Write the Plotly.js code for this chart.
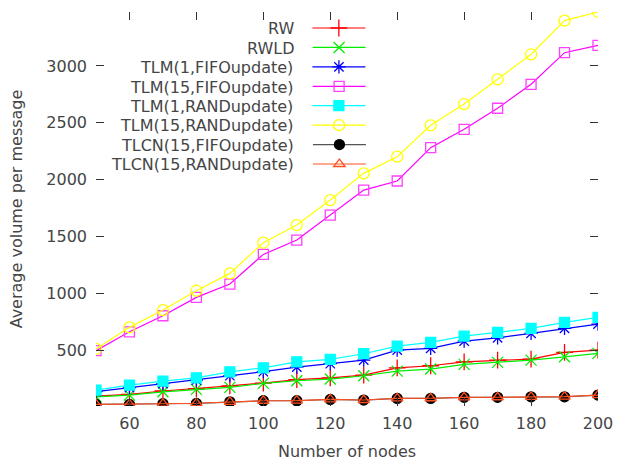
<!DOCTYPE html>
<html><head><meta charset="utf-8">
<script src="https://cdn.plot.ly/plotly-3.0.1.min.js"></script>
<style>html,body{margin:0;padding:0;background:#fff}#chart{width:617px;height:461px}</style>
</head><body><div id="chart"></div>
<script>
// ---- data ----
const nodes = [50,60,70,80,90,100,110,120,130,140,150,160,170,180,190,200];
const rw          = [95,110,140,160,185,210,240,255,280,344,362,397,412,421,480,500];
const rwld        = [89,104,133,154,172,207,230,245,274,315,333,374,392,412,441,471];
const tlm1Fifo    = [135,170,205,235,275,310,350,380,412,500,515,579,608,647,691,729];
const tlm15Fifo   = [495,661,802,964,1081,1342,1468,1688,1908,1988,2281,2443,2628,2839,3117,3182];
const tlm1Rand    = [148,192,227,256,309,344,397,418,468,535,568,623,656,691,744,788];
const tlm15Rand   = [510,700,852,1022,1175,1445,1600,1820,2055,2202,2478,2665,2883,3103,3399,3475];
const tlcn15Fifo  = [22,22,28,31,45,54,54,66,60,75,75,84,84,89,89,104];
const tlcn15Rand  = [22,23,28,32,45,54,55,66,61,75,76,84,85,89,90,104];
const seriesNames = ["RW","RWLD","TLM(1,FIFOupdate)","TLM(15,FIFOupdate)","TLM(1,RANDupdate)","TLM(15,RANDupdate)","TLCN(15,FIFOupdate)","TLCN(15,RANDupdate)"];
const xTicks = [60,80,100,120,140,160,180,200];
const yTicks = [500,1000,1500,2000,2500,3000];

// ---- styles ----
const allSeries = [rw, rwld, tlm1Fifo, tlm15Fifo, tlm1Rand, tlm15Rand, tlcn15Fifo, tlcn15Rand];
const colors  = ["#ff0000","#00ee00","#0000ff","#ff00ff","#00ffff","#ffff00","#555555","#ff5020"];
const mcolors = ["#ff0000","#00ee00","#0000ff","#ff40ff","#00ffff","#ffff00","#000000","#ff5020"];
const symbols = ["cross-thin-open","x-thin-open","asterisk-open","square-open","square","circle-open","circle","triangle-up-open"];
const msizes  = [12,11,11,10,10,11,10,10];

const textColor = "#454545";
const font = {family: "DejaVu Sans, sans-serif", size: 16, color: textColor};

const traces = allSeries.map((ys, i) => ({
  x: nodes, y: ys, type: "scatter", mode: "lines+markers",
  name: "",
  legend: i === 0 ? "legend" : "legend" + (i + 1),
  line: {color: colors[i], width: 1.2},
  marker: {symbol: symbols[i], size: msizes[i], color: mcolors[i],
           line: {color: mcolors[i], width: 1.3}},
  hoverinfo: "x+y"
}));

const W = 617, H = 461, L = 96, R = 19, T = 12, B = 55;
const plotH = H - T - B, plotW = W - L - R;
const layout = {
  width: W, height: H,
  margin: {l: L, r: R, t: T, b: B},
  paper_bgcolor: "#fff", plot_bgcolor: "#fff",
  font: font,
  showlegend: true,
  xaxis: {
    range: [50, 200], tickvals: xTicks, ticktext: xTicks.map(String),
    showgrid: false, zeroline: false, showline: false,
    ticks: "inside", ticklen: 8, tickwidth: 1, tickcolor: "#333",
    mirror: "ticks", ticklabelstandoff: 6,
    tickfont: font,
    title: {text: "Number of nodes", font: font, standoff: 14}
  },
  yaxis: {
    range: [8, 3475], tickvals: yTicks, ticktext: yTicks.map(String),
    showgrid: false, zeroline: false, showline: false,
    ticks: "inside", ticklen: 8, tickwidth: 1, tickcolor: "#333",
    mirror: "ticks", ticklabelstandoff: 8,
    tickfont: font,
    title: {text: "Average volume per message", font: font, standoff: 19}
  }
};
seriesNames.forEach((nm, i) => {
  const key = i === 0 ? "legend" : "legend" + (i + 1);
  const cy = 29 + i * 19.43;
  layout[key] = {
    x: (376 - L) / plotW, xanchor: "right",
    y: (H - B - cy) / plotH, yanchor: "middle",
    bgcolor: "rgba(0,0,0,0)", borderwidth: 0,
    itemwidth: 53,
    font: {family: "DejaVu Sans, sans-serif", size: 12, color: textColor},
    title: {text: nm + "\u00a0", side: "left", font: font}
  };
});

Plotly.newPlot("chart", traces, layout, {displayModeBar: false, staticPlot: true});
</script></body></html>
